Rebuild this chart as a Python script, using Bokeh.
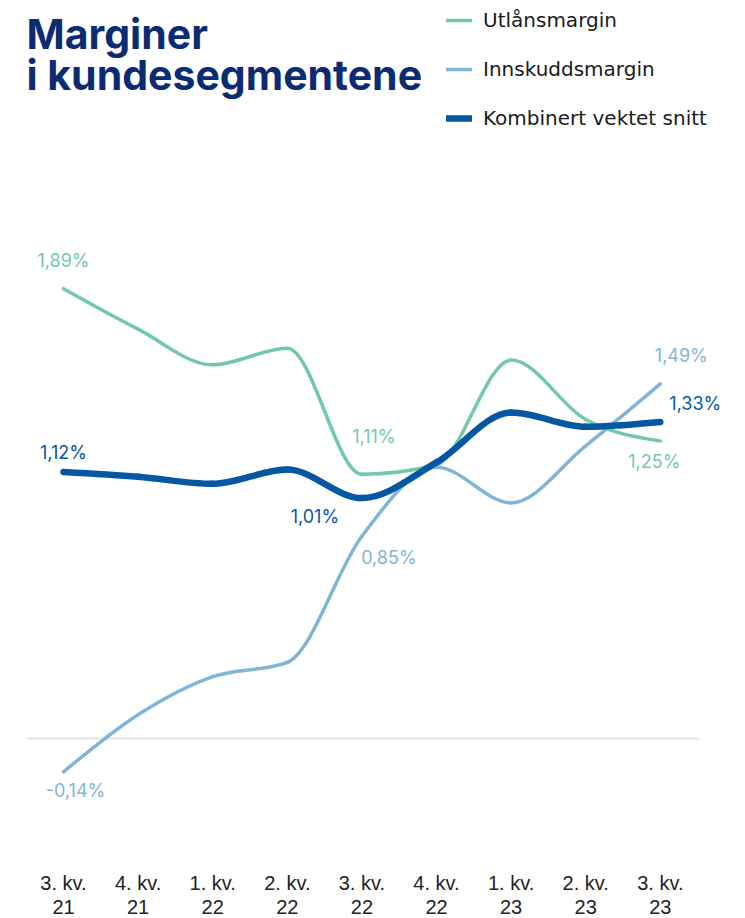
import numpy as np
from bokeh.plotting import figure
from bokeh.models import Label, Legend, LegendItem, ColumnDataSource
from bokeh.core.properties import value
from bokeh.embed import file_html
from bokeh.resources import INLINE

# ---------------- data ----------------
categories = ["3. kv.\n21", "4. kv.\n21", "1. kv.\n22", "2. kv.\n22", "3. kv.\n22",
              "4. kv.\n22", "1. kv.\n23", "2. kv.\n23", "3. kv.\n23"]
utlan = [1.89, 1.72, 1.57, 1.64, 1.11, 1.15, 1.59, 1.34, 1.25]
innskudd = [-0.14, 0.10, 0.26, 0.32, 0.85, 1.14, 0.99, 1.23, 1.49]
kombinert = [1.12, 1.10, 1.07, 1.13, 1.01, 1.16, 1.37, 1.31, 1.33]
series_names = ["Utlånsmargin", "Innskuddsmargin", "Kombinert vektet snitt"]
labelled_idx = [0, 4, 8]

# ---------------- style ----------------
C_GREEN = "#72c9a8"
C_LIGHT = "#80b5d7"
C_DARK = "#0657a3"
C_TITLE = "#0b2b73"
W, H = 745, 918

xs = np.arange(len(categories), dtype=float)
# pixel mapping: x step 74.6 px, first category at x 63; zero at y 738, 238 px / unit
x_start = (0 - 63) / 74.6
x_end = (W - 63) / 74.6
y_end = (738 - 0) / 238.0
y_start = (738 - H) / 238.0

p = figure(width=W, height=H, output_backend="svg", toolbar_location=None,
           x_range=(x_start, x_end), y_range=(y_start, y_end),
           x_axis_location=None, y_axis_location=None, min_border=0)
p.outline_line_color = None
p.grid.visible = False
p.background_fill_color = "white"
p.border_fill_color = "white"


def monotone_bezier(x, y):
    x = np.asarray(x, float)
    y = np.asarray(y, float)
    n = len(x)
    h = np.diff(x)
    s = np.diff(y) / h
    sg = lambda v: -1.0 if v < 0 else 1.0
    t = np.zeros(n)
    for i in range(1, n - 1):
        pp = (s[i - 1] * h[i] + s[i] * h[i - 1]) / (h[i - 1] + h[i])
        t[i] = (sg(s[i - 1]) + sg(s[i])) * min(abs(s[i - 1]), abs(s[i]), 0.5 * abs(pp))
    t[0] = (3 * s[0] - t[1]) / 2
    t[-1] = (3 * s[-1] - t[-2]) / 2
    dx = h / 3
    return dict(x0=x[:-1], y0=y[:-1], x1=x[1:], y1=y[1:],
                cx0=x[:-1] + dx, cy0=y[:-1] + dx * t[:-1],
                cx1=x[1:] - dx, cy1=y[1:] - dx * t[1:])


# zero line
p.segment(x0=[xs[0] - 0.48], y0=[0], x1=[xs[-1] + 0.52], y1=[0],
          line_color="#e3e3e3", line_width=2)

series = [utlan, innskudd, kombinert]
colors = [C_GREEN, C_LIGHT, C_DARK]
widths = [3.5, 3.5, 6.5]
order = [1, 0, 2]
renderers = {}
for k in order:
    src = ColumnDataSource(monotone_bezier(xs, series[k]))
    r = p.bezier(x0="x0", y0="y0", x1="x1", y1="y1", cx0="cx0", cy0="cy0",
                 cx1="cx1", cy1="cy1", source=src, line_color=colors[k],
                 line_width=widths[k], line_cap="round")
    renderers[k] = r

# data labels
label_offsets = [
    [(0, -28), (12, -38), (-6, 20)],
    [(12, 19), (27, 21), (21, -28)],
    [(0, -19), (-47, 18), (35, -18)],
]
for k in range(3):
    for j, idx in enumerate(labelled_idx):
        v = series[k][idx]
        txt = f"{v:.2f}".replace(".", ",") + "%"
        ox, oy = label_offsets[k][j]
        p.text(x=[xs[idx]], y=[v], text=[txt], x_offset=ox, y_offset=oy,
               text_align="center", text_baseline="middle",
               text_font=value("Inter"), text_font_size="18px",
               text_color=colors[k])

# category labels
for i, c in enumerate(categories):
    l1, l2 = c.split("\n")
    for txt, off in [(l1, 144), (l2, 168)]:
        p.text(x=[xs[i]], y=[0], text=[txt], y_offset=off, text_align="center",
               text_baseline="middle", text_font=value("Liberation Sans"),
               text_font_size="20px", text_color="#222222")

# title
for txt, yy in [("Marginer", H - 33), ("i kundesegmentene", H - 74)]:
    p.add_layout(Label(x=26, y=yy, x_units="screen", y_units="screen", text=txt,
                       text_font="Inter", text_font_style="bold",
                       text_font_size="41px", text_color=C_TITLE,
                       text_baseline="alphabetic"))

legend = Legend(items=[LegendItem(label=series_names[k], renderers=[renderers[k]]) for k in range(3)],
                location=(446, H - 13 - 117), orientation="vertical",
                glyph_width=26, glyph_height=20, label_height=20, label_standoff=11,
                spacing=25, padding=0, margin=0, border_line_color=None,
                background_fill_alpha=0, label_text_font="DejaVu Sans",
                label_text_font_size="20px", label_text_color="#1a1a1a")
p.add_layout(legend)

open("out.html", "w").write(file_html(p, INLINE))
